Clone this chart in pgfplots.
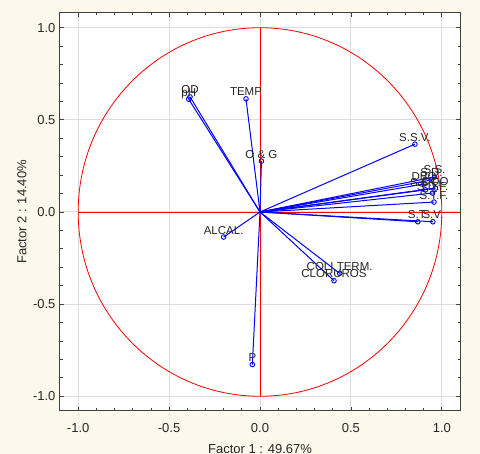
\documentclass[border=0pt]{standalone}
\usepackage{fontspec}
\setmainfont{Liberation Sans}
\usepackage{pgfplots}
\usepackage{pgfplotstable}
\pgfplotsset{compat=1.18}
\definecolor{bgcream}{HTML}{FDF8EC}
\definecolor{vecblue}{HTML}{0000FF}
\definecolor{framegray}{HTML}{404040}
\definecolor{gridgray}{HTML}{DCDCDC}

% factor loadings: origin (x0,y0) and loading (x,y)
\pgfplotstableread[col sep=comma]{
x0,y0,x,y,label
0,0,-0.385,0.625,OD
0,0,-0.392,0.612,pH
0,0,-0.077,0.614,TEMP
0,0,0.008,0.276,O \& G
0,0,-0.200,-0.136,ALCAL.
0,0,0.438,-0.333,COLI TERM.
0,0,0.407,-0.373,CLORUROS
0,0,-0.042,-0.828,P
0,0,0.852,0.368,S.S.V.
0,0,0.960,0.190,S.S.
0,0,0.943,0.174,S.D.
0,0,0.902,0.152,DBO
0,0,0.965,0.130,DQO
0,0,0.910,0.120,S.S.F.
0,0,0.949,0.103,S.D.F.
0,0,0.957,0.054,S.T.F.
0,0,0.868,-0.053,S.T.
0,0,0.951,-0.053,S.V.
}\loadings

\begin{document}
\begin{tikzpicture}[x=1pt,y=1pt]
\useasboundingbox (0,0) rectangle (480,454);
\fill[bgcream] (0,0) rectangle (480,454);
\begin{axis}[
    at={(60pt,43pt)}, anchor=south west,
    scale only axis,
    width=400pt, height=398pt,
    xmin=-1.1, xmax=1.1,
    ymin=-1.08, ymax=1.08,
    xtick={-1,-0.5,0,0.5,1},
    ytick={-1,-0.5,0,0.5,1},
    minor tick num=4,
    tick pos=both,
    tick align=inside,
    major tick length=4pt,
    minor tick length=2.5pt,
    every tick/.style={framegray, line width=0.8pt},
    axis line style={framegray, line width=1pt},
    axis background/.style={fill=white},
    grid=major,
    major grid style={gridgray, line width=1pt},
    ticklabel style={font=\fontsize{13}{15}\selectfont, text=black!85},
    xticklabel style={yshift=-9pt},
    yticklabel style={xshift=-1pt},
    /pgf/number format/.cd, fixed, fixed zerofill, precision=1, assume math mode=true,
    /pgfplots/.cd,
    xlabel={Factor 1 : 49.67\%},
    ylabel={Factor 2 : 14.40\%},
    label style={font=\fontsize{13}{15}\selectfont, text=black!85},
    xlabel style={at={(axis description cs:0.5,0)}, anchor=north, inner sep=0pt, yshift=-33pt},
    ylabel style={at={(axis description cs:-0.095,0.5)}, anchor=center, inner sep=0pt},
]
\draw[red, line width=0.8pt] (axis cs:0,0) ellipse [x radius=1, y radius=1];
\draw[red, line width=0.8pt] (axis cs:-1,0) -- (axis cs:1.1,0);
\draw[red, line width=0.8pt] (axis cs:0,-1) -- (axis cs:0,1);

\addplot[vecblue, line width=1pt, quiver={u=\thisrow{x}, v=\thisrow{y}}]
    table[x=x0, y=y0] {\loadings};
\addplot[vecblue, only marks, mark=o, mark size=2.3pt, line width=0.9pt,
    point meta=explicit symbolic,
    nodes near coords,
    every node near coord/.style={anchor=base, yshift=3pt, inner sep=0pt,
        font=\fontsize{11.5}{12}\selectfont, text=black!85}]
    table[x=x, y=y, meta=label] {\loadings};
\end{axis}
\end{tikzpicture}
\end{document}
